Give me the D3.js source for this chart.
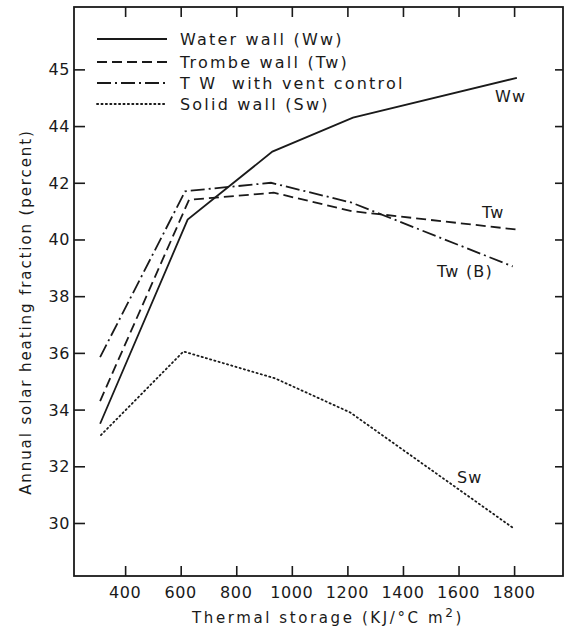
<!DOCTYPE html>
<html>
<head>
    <title>Annual solar heating fraction vs thermal storage</title>
    <meta charset="utf-8" />
    <script src="https://cdn.jsdelivr.net/npm/d3@7"></script>
    <style>
        body {
            padding: 0;
            margin: 0;
            background: #fff;
        }
        svg text {
            font-family: "DejaVu Sans", sans-serif;
            fill: #1a1a1a;
        }
        .axis path {
            stroke: none;
        }
        .axis line {
            stroke: #1a1a1a;
            stroke-width: 1.6px;
        }
        .tick-label {
            font-size: 16px;
            letter-spacing: 0.6px;
        }
        .legend-text {
            white-space: pre;
        }
        .series {
            fill: none;
            stroke: #1a1a1a;
            stroke-width: 1.8px;
        }
    </style>
</head>
<body>
    <svg id="chart" width="568" height="635"></svg>
    <script>

// x ticks (thermal storage) and y ticks (percent)
var xTicks = [400, 600, 800, 1000, 1200, 1400, 1600, 1800];
var yTicks = [30, 32, 34, 36, 38, 40, 42, 44, 46];
var yTickLabels = ["30", "32", "34", "36", "38", "40", "42", "44", "45"];

// series
var wwX = [310, 625, 930, 1220, 1810];
var wwY = [33.5, 40.7, 43.1, 44.3, 45.7];

var twX = [310, 630, 935, 1215, 1810];
var twY = [34.3, 41.4, 41.65, 41.0, 40.35];

var tvX = [310, 616, 925, 1215, 1795];
var tvY = [35.85, 41.7, 42.0, 41.3, 39.05];

var swX = [313, 610, 940, 1210, 1800];
var swY = [33.1, 36.05, 35.1, 33.9, 29.8];

var legendNames = ["Water wall (Ww)", "Trombe wall (Tw)", "T W  with vent control", "Solid wall (Sw)"];
var curveLabels = ["Ww", "Tw", "Tw (B)", "Sw"];
var dashes = ["none", "10,5", "14,4,2,4", "1.2,3.2"];

function draw() {
  var svg = d3.select("#chart");

  // plot frame (pixels)
  var fL = 74, fR = 563, fT = 7, fB = 576;

  var x = d3.scaleLinear()
      .domain([216, 1976])
      .range([fL, fR]);
  var y = d3.scaleLinear()
      .domain([28.13, 48.2])
      .range([fB, fT]);

  // frame
  svg.append("rect")
      .attr("x", fL)
      .attr("y", fT)
      .attr("width", fR - fL)
      .attr("height", fB - fT)
      .attr("fill", "none")
      .attr("stroke", "#1a1a1a")
      .attr("stroke-width", 1.8);

  // ticks on all four sides, pointing inward
  svg.append("g")
      .attr("class", "axis")
      .attr("transform", "translate(0," + fB + ")")
      .call(d3.axisTop(x).tickValues(xTicks).tickSize(10).tickFormat(""));
  svg.append("g")
      .attr("class", "axis")
      .attr("transform", "translate(0," + fT + ")")
      .call(d3.axisBottom(x).tickValues(xTicks).tickSize(10).tickFormat(""));
  svg.append("g")
      .attr("class", "axis")
      .attr("transform", "translate(" + fL + ",0)")
      .call(d3.axisRight(y).tickValues(yTicks).tickSize(11).tickFormat(""));
  svg.append("g")
      .attr("class", "axis")
      .attr("transform", "translate(" + fR + ",0)")
      .call(d3.axisLeft(y).tickValues(yTicks).tickSize(8).tickFormat(""));

  // tick labels
  svg.append("g").selectAll("text")
      .data(xTicks)
      .enter().append("text")
        .attr("class", "tick-label")
        .attr("x", function(d) { return x(d); })
        .attr("y", 598)
        .attr("text-anchor", "middle")
        .text(function(d) { return d; });
  svg.append("g").selectAll("text")
      .data(yTicks)
      .enter().append("text")
        .attr("class", "tick-label")
        .attr("x", 70)
        .attr("y", function(d) { return y(d) + 6; })
        .attr("text-anchor", "end")
        .text(function(d, i) { return yTickLabels[i]; });

  // axis titles
  var xTitle = svg.append("text")
      .attr("x", 328)
      .attr("y", 623)
      .attr("text-anchor", "middle")
      .style("font-size", "15px")
      .style("letter-spacing", "2.6px");
  xTitle.append("tspan").text("Thermal storage (KJ/\u00b0C m");
  xTitle.append("tspan").attr("dy", -6).style("font-size", "12px").text("2");
  xTitle.append("tspan").attr("dy", 6).text(")");

  svg.append("text")
      .attr("transform", "translate(31,312) rotate(-90)")
      .attr("text-anchor", "middle")
      .style("font-size", "15px")
      .style("letter-spacing", "1.9px")
      .text("Annual solar heating fraction (percent)");

  // lines
  var line = d3.line()
      .x(function(d) { return x(d[0]); })
      .y(function(d) { return y(d[1]); });

  var series = [d3.zip(wwX, wwY), d3.zip(twX, twY), d3.zip(tvX, tvY), d3.zip(swX, swY)];

  svg.append("g").selectAll("path")
      .data(series)
      .enter().append("path")
        .attr("class", "series")
        .attr("d", line)
        .attr("stroke-dasharray", function(d, i) { return dashes[i]; })
        .attr("stroke-linecap", function(d, i) { return i === 3 ? "round" : "butt"; });

  // curve labels
  var labelPos = [[495, 102], [482, 218], [437, 277], [457, 483]];
  svg.append("g").selectAll("text")
      .data(curveLabels)
      .enter().append("text")
        .attr("x", function(d, i) { return labelPos[i][0]; })
        .attr("y", function(d, i) { return labelPos[i][1]; })
        .style("font-size", "16px")
        .style("letter-spacing", "1.2px")
        .text(function(d) { return d; });

  // legend
  var legend = svg.append("g").selectAll("g")
      .data(legendNames)
      .enter().append("g")
        .attr("transform", function(d, i) { return "translate(97," + [39, 62, 83, 104][i] + ")"; });
  legend.append("line")
      .attr("class", "series")
      .attr("x1", 0)
      .attr("x2", 70)
      .attr("stroke-dasharray", function(d, i) { return dashes[i]; })
      .attr("stroke-linecap", function(d, i) { return i === 3 ? "round" : "butt"; });
  legend.append("text")
      .attr("class", "legend-text")
      .attr("x", 83)
      .attr("y", 6)
      .style("font-size", "16px")
      .style("letter-spacing", "2.2px")
      .text(function(d) { return d; });
}

draw();

    </script>
</body>
</html>
